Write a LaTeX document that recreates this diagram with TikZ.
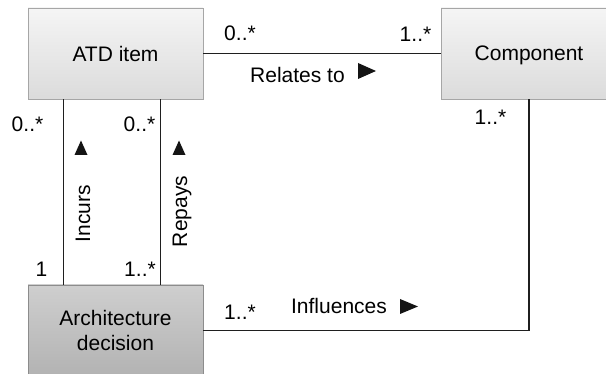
\documentclass[tikz,border=0pt]{standalone}
\usepackage{fontspec}
\setmainfont{Liberation Sans}
\begin{document}
\begin{tikzpicture}[x=1pt, y=-1pt,
  cls/.style={draw=#1, line width=0.8pt, minimum width=175pt, minimum height=91pt,
    inner sep=0pt, align=center, font=\fontsize{21}{24.5}\selectfont},
  lightcls/.style={cls=black!35, top color=black!4, bottom color=black!14},
  darkcls/.style={cls=black!45, top color=black!19, bottom color=black!30},
  assoc/.style={line width=1.6pt, draw=black!88},
  lbl/.style={font=\fontsize{21}{24}\selectfont, inner sep=0pt, anchor=base},
  dirmark/.style={fill=black!92}]
  \useasboundingbox (0,0) rectangle (606,374);
  \clip (0,0) rectangle (606,374);

  % classes
  \node[lightcls] (atd)  at (115.5,53.5)  {ATD item};
  \node[lightcls, minimum width=176pt, text depth=0pt] (comp) at (529,53.5) {Component};
  \node[darkcls] (arch) at (115.5,330.5) {Architecture\\decision};

  % associations
  \draw[assoc] (atd.east) -- (comp.west);
  \draw[assoc] ([xshift=36pt]atd.south west) -- ([xshift=36pt]arch.north west);
  \draw[assoc] ([xshift=133pt]atd.south west) -- ([xshift=133pt]arch.north west);
  \draw[assoc] (arch.east) -| (comp.south);

  % multiplicities
  \node[lbl] (m1) at (240,41)    {0..*};
  \node[lbl] (m2) at (415.5,42)  {1..*};
  \node[lbl] (m3) at (490.5,125) {1..*};
  \node[lbl] (m4) at (27.5,132)  {0..*};
  \node[lbl] (m5) at (139.5,132) {0..*};
  \node[lbl] (m6) at (41.5,277)  {1};
  \node[lbl] (m7) at (140,277)   {1..*};
  \node[lbl] (m8) at (240,320)   {1..*};

  % association names
  \node[lbl] (rel) at (297.5,83) {Relates to};
  \node[lbl] (inf) at (339,314)  {Influences};
  \node[lbl, rotate=90] (inc) at (90,213.5)  {Incurs};
  \node[lbl, rotate=90] (rep) at (187,211.5) {Repays};

  % reading-direction marks
  \fill[dirmark] (358,63) -- (358,79) -- (376,71) -- cycle;
  \fill[dirmark] (400,299) -- (400,314) -- (418,306.5) -- cycle;
  \fill[dirmark] (74.5,155) -- (87.5,155) -- (81,140.5) -- cycle;
  \fill[dirmark] (172.5,155) -- (185.5,155) -- (179,140.5) -- cycle;
\end{tikzpicture}
\end{document}
